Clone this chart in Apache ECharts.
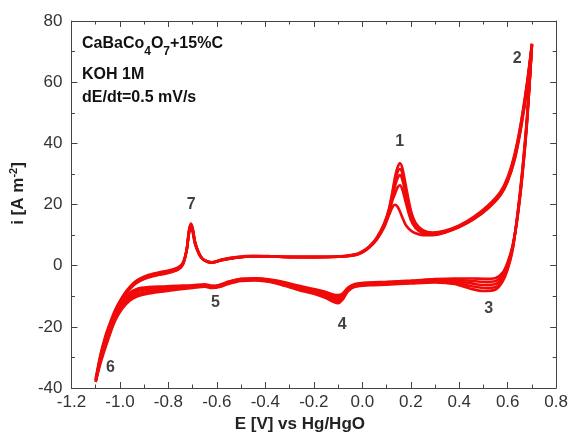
<!DOCTYPE html>
<html>
<head>
<meta charset="utf-8">
<script src="https://cdn.jsdelivr.net/npm/echarts@6/dist/echarts.min.js"></script>
<style>
  html, body { margin: 0; padding: 0; background: #fff; }
  #chart { width: 571px; height: 438px; }
</style>
</head>
<body>
<div id="chart"></div>
<script>
// Potentials of the forward (anodic) sweep, -1.1 V -> 0.7 V
const forwardE = [-1.10, -1.08, -1.06, -1.04, -1.02, -1.00, -0.98, -0.96, -0.94, -0.92,
  -0.88, -0.84, -0.80, -0.76, -0.74, -0.725, -0.715, -0.707, -0.70, -0.69,
  -0.675, -0.66, -0.64, -0.62, -0.58, -0.52, -0.45, -0.38, -0.30, -0.20,
  -0.10, -0.03, 0.00, 0.03, 0.06, 0.09, 0.11, 0.125, 0.135, 0.145,
  0.155, 0.165, 0.18, 0.20, 0.22, 0.25, 0.29, 0.34, 0.40, 0.46,
  0.52, 0.57, 0.60, 0.63, 0.655, 0.68, 0.70];

// Potentials of the reverse (cathodic) sweep, 0.7 V -> -1.1 V
const reverseE = [0.68, 0.66, 0.64, 0.62, 0.60, 0.58, 0.55, 0.50, 0.45, 0.38,
  0.30, 0.20, 0.10, 0.03, -0.03, -0.06, -0.08, -0.10, -0.12, -0.15,
  -0.20, -0.26, -0.32, -0.38, -0.44, -0.50, -0.55, -0.59, -0.62, -0.65,
  -0.70, -0.76, -0.82, -0.88, -0.93, -0.96, -0.99, -1.02, -1.05, -1.08, -1.10];

// Current density (A m^-2) on the forward sweep, one array per cycle
const cycle1Fwd = [-37, -29, -23, -18.5, -14.5, -11.5, -9, -7, -5.4, -4.3,
  -3, -2.2, -1.6, -0.6, 1.0, 5, 10.5, 12.8, 11, 7,
  4, 2.2, 1.3, 1.0, 1.8, 2.6, 3.0, 3.0, 2.8, 2.8,
  2.9, 3.4, 4.3, 6.0, 8.6, 12.5, 16.5, 19.2, 19.9, 19.3,
  17.8, 15.8, 13.2, 11.5, 10.6, 10.0, 10.0, 10.8, 12.6, 15.2,
  18.8, 23.0, 27.5, 35, 45, 58, 72];
const cycle2Fwd = [-37.5, -29.5, -23.5, -19, -15, -12, -9.2, -7.2, -5.6, -4.5,
  -3.2, -2.4, -1.8, -0.8, 0.8, 5, 11, 13.2, 11.5, 7.3,
  4, 2.2, 1.3, 1.0, 1.8, 2.6, 3.0, 3.0, 2.8, 2.8,
  2.9, 3.5, 4.4, 6.1, 8.7, 12.8, 17.2, 21.5, 23.5, 25.5,
  26.3, 25, 20.5, 15, 12.3, 10.6, 10.2, 10.9, 12.7, 15.3,
  19.0, 23.2, 27.8, 35.5, 45.5, 58.5, 72.3];
const cycle3Fwd = [-37.5, -30, -24, -19.5, -15.5, -12, -9.5, -7.4, -5.8, -4.7,
  -3.4, -2.6, -2.0, -1.0, 0.6, 5, 11, 13.5, 12, 7.5,
  4.2, 2.2, 1.3, 1.0, 1.9, 2.7, 3.1, 3.0, 2.8, 2.8,
  3.0, 3.6, 4.5, 6.2, 8.8, 13.2, 17.8, 22.8, 26.0, 28.5,
  29.6, 28.2, 23, 16.5, 13, 11, 10.4, 11.0, 12.8, 15.5,
  19.2, 23.5, 28.2, 36, 46, 59, 72.5];
const cycle4Fwd = [-38, -30.5, -24.5, -20, -16, -12.5, -9.8, -7.6, -6, -4.9,
  -3.6, -2.8, -2.2, -1.2, 0.5, 5, 11.5, 13.5, 12, 7.6,
  4.2, 2.3, 1.4, 1.1, 1.9, 2.7, 3.1, 3.1, 2.9, 2.8,
  3.0, 3.6, 4.6, 6.3, 9.0, 13.5, 18.2, 23.8, 27.8, 30.5,
  31.6, 30.2, 24.5, 17.5, 13.5, 11.3, 10.6, 11.2, 13.0, 15.7,
  19.5, 23.8, 28.5, 36.5, 46.5, 59.5, 72.5];
const cycle5Fwd = [-38, -31, -25, -20.5, -16.5, -13, -10, -7.8, -6.2, -5.1,
  -3.8, -3, -2.4, -1.3, 0.4, 5, 11.5, 13.8, 12.3, 7.8,
  4.3, 2.3, 1.4, 1.1, 2.0, 2.8, 3.2, 3.1, 2.9, 2.9,
  3.0, 3.7, 4.7, 6.4, 9.2, 13.8, 18.6, 24.5, 29.0, 32.0,
  33.5, 32, 26, 18.2, 14, 11.6, 10.8, 11.4, 13.2, 16,
  19.8, 24.2, 29, 37, 47, 60, 72.5];

// Current density (A m^-2) on the reverse sweep, one array per cycle
const cycle1Rev = [47, 29, 15.5, 6.5, 1.2, -2.2, -4.0, -4.3, -4.2, -4.2,
  -4.4, -4.9, -5.3, -5.5, -6.0, -7.2, -9.0, -9.6, -9.4, -8.6,
  -7.6, -6.6, -5.4, -4.5, -4.1, -4.3, -5.2, -6.3, -6.6, -6.1,
  -6.4, -6.6, -6.8, -7.0, -7.6, -9.0, -12.2, -16.8, -23, -30.5, -37];
const cycle2Rev = [47.5, 29.5, 15.8, 6.2, 0.6, -3, -5.0, -5.3, -5.0, -4.6,
  -4.6, -5.1, -5.5, -5.7, -6.2, -7.5, -9.5, -10.3, -10, -9.1,
  -8.0, -7.0, -5.7, -4.7, -4.3, -4.4, -5.3, -6.4, -6.7, -6.3,
  -6.6, -6.8, -7.1, -7.4, -8.1, -9.5, -12.6, -17, -23.3, -30.8, -37.5];
const cycle3Rev = [48, 30, 16, 5.8, 0, -3.7, -6.0, -6.3, -5.8, -5.0,
  -4.9, -5.3, -5.7, -5.9, -6.4, -7.8, -10.0, -11.0, -10.6, -9.6,
  -8.4, -7.3, -6.0, -4.9, -4.4, -4.6, -5.5, -6.6, -6.9, -6.5,
  -6.8, -7.1, -7.5, -7.9, -8.7, -10.1, -13.0, -17.3, -23.6, -31, -37.5];
const cycle4Rev = [48.5, 30.5, 16.3, 5.4, -0.6, -4.4, -7.0, -7.3, -6.7, -5.5,
  -5.2, -5.5, -5.9, -6.1, -6.6, -8.1, -10.5, -11.6, -11.2, -10.1,
  -8.8, -7.6, -6.3, -5.1, -4.6, -4.8, -5.7, -6.8, -7.1, -6.7,
  -7.0, -7.4, -7.9, -8.5, -9.4, -10.8, -13.5, -17.6, -24, -31.4, -38];
const cycle5Rev = [49, 31, 16.6, 5, -1.2, -5.0, -7.8, -8.3, -7.6, -6.0,
  -5.5, -5.8, -6.2, -6.4, -6.9, -8.5, -11.0, -12.3, -11.8, -10.6,
  -9.2, -8.0, -6.6, -5.3, -4.8, -5.0, -5.9, -7.0, -7.3, -6.9,
  -7.3, -7.8, -8.4, -9.1, -10.1, -11.5, -14, -18, -24.4, -31.8, -38];

// Peak / region markers
const markerText = ['1', '2', '3', '4', '5', '6', '7'];
const markerE = [0.154, 0.639, 0.522, -0.083, -0.606, -1.039, -0.706];
const markerI = [40.5, 67.8, -14.1, -19.2, -12.2, -33.2, 19.9];

const forwardCycles = [cycle1Fwd, cycle2Fwd, cycle3Fwd, cycle4Fwd, cycle5Fwd];
const reverseCycles = [cycle1Rev, cycle2Rev, cycle3Rev, cycle4Rev, cycle5Rev];

const FONT = '"Liberation Sans", Arial, sans-serif';
const AXIS_COLOR = '#444';
const CURVE_COLOR = '#f00a0a';

function loop(fwd, rev) {
  const pts = forwardE.map((e, i) => [e, fwd[i]]);
  reverseE.forEach((e, i) => pts.push([e, rev[i]]));
  return pts;
}

const curveSeries = forwardCycles.map((fwd, k) => ({
  type: 'line',
  name: 'cycle ' + (k + 1),
  data: loop(fwd, reverseCycles[k]),
  showSymbol: false,
  symbol: 'none',
  smooth: 0.3,
  lineStyle: { color: CURVE_COLOR, width: 2.6 },
  z: 2,
  silent: true
}));

const markerSeries = {
  type: 'scatter',
  data: markerText.map((t, i) => ({ name: t, value: [markerE[i], markerI[i]] })),
  symbolSize: 0,
  itemStyle: { color: 'transparent' },
  label: {
    show: true,
    position: 'inside',
    formatter: p => p.name,
    fontFamily: FONT,
    fontSize: 16,
    fontWeight: 'bold',
    color: '#111'
  },
  z: 5,
  silent: true
};

const tickCommon = {
  axisLine: { show: true, onZero: false, lineStyle: { color: AXIS_COLOR, width: 1 } },
  axisTick: { show: true, inside: true, length: 6, lineStyle: { color: AXIS_COLOR } },
  minorTick: { show: true, splitNumber: 2, length: 3.5, lineStyle: { color: AXIS_COLOR } },
  splitLine: { show: false },
  minorSplitLine: { show: false }
};

const fmtE = v => (Math.abs(v) < 1e-9 ? '0.0' : v.toFixed(1));

const chart = echarts.init(document.getElementById('chart'), null, { renderer: 'canvas' });
chart.setOption({
  animation: false,
  backgroundColor: '#fff',
  grid: { left: 68, right: 14, top: 21, bottom: 47 },
  xAxis: [
    Object.assign({
      type: 'value', position: 'bottom', min: -1.2, max: 0.8, interval: 0.2,
      name: 'E [V] vs Hg/HgO', nameLocation: 'middle', nameGap: 28,
      nameTextStyle: { fontFamily: FONT, fontSize: 17, fontWeight: 'bold', color: '#222', padding: [0, 28, 0, 0] },
      axisLabel: { fontFamily: FONT, fontSize: 17, color: '#333', margin: 6, formatter: fmtE }
    }, tickCommon),
    Object.assign({
      type: 'value', position: 'top', min: -1.2, max: 0.8, interval: 0.2,
      axisLabel: { show: false }
    }, tickCommon)
  ],
  yAxis: [
    Object.assign({
      type: 'value', position: 'left', min: -40, max: 80, interval: 20,
      name: '{a|i [A m}{s|-2}{a|]}', nameLocation: 'middle', nameGap: 40, nameRotate: 90,
      nameTextStyle: {
        padding: [0, 0, 0, 22],
        rich: {
          a: { fontFamily: FONT, fontSize: 17, fontWeight: 'bold', color: '#222' },
          s: { fontFamily: FONT, fontSize: 11, fontWeight: 'bold', color: '#222', padding: [0, 0, 10, 0] }
        }
      },
      axisLabel: { fontFamily: FONT, fontSize: 17, color: '#333', margin: 9 }
    }, tickCommon),
    Object.assign({
      type: 'value', position: 'right', min: -40, max: 80, interval: 20,
      axisLabel: { show: false }
    }, tickCommon)
  ],
  graphic: [
    {
      type: 'text', left: 82, top: 36, silent: true,
      style: {
        text: '{b|CaBaCo}{s|4}{b|O}{s|7}{b|+15%C}',
        rich: {
          b: { fontFamily: FONT, fontSize: 16, fontWeight: 'bold', fill: '#111' },
          s: { fontFamily: FONT, fontSize: 12, fontWeight: 'bold', fill: '#111', padding: [16, 0, 0, 0] }
        }
      }
    },
    {
      type: 'text', left: 82, top: 67, silent: true,
      style: { text: 'KOH 1M', font: 'bold 16px ' + FONT, fill: '#111' }
    },
    {
      type: 'text', left: 82, top: 90, silent: true,
      style: { text: 'dE/dt=0.5 mV/s', font: 'bold 16px ' + FONT, fill: '#111' }
    }
  ],
  series: curveSeries.concat([markerSeries])
});
</script>
</body>
</html>
